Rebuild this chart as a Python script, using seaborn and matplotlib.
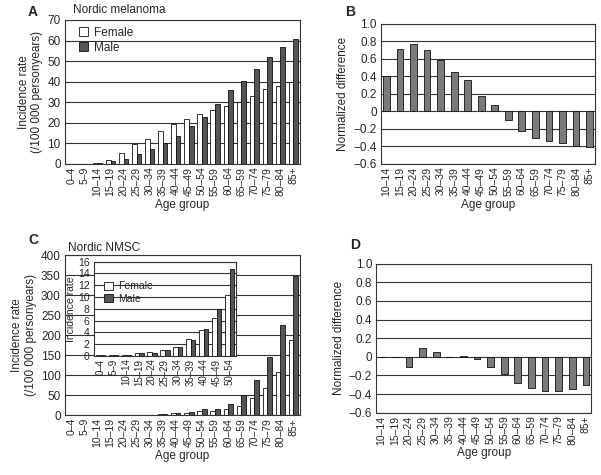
import matplotlib
matplotlib.use("Agg")
import matplotlib.pyplot as plt
import pandas as pd
import seaborn as sns

sns.set_style("white")
plt.rcParams['font.family'] = ['Liberation Sans', 'DejaVu Sans']

# Age groups (the reference labels 65-69 as "65–59")
ages = ['0–4', '5–9', '10–14', '15–19', '20–24', '25–29', '30–34', '35–39', '40–44',
        '45–49', '50–54', '55–59', '60–64', '65–59', '70–74', '75–79', '80–84', '85+']
ages_diff = ages[2:]
ages_inset = ages[:11]

# Nordic melanoma incidence (/100 000 personyears)
mel_female = [0, 0.1, 0.3, 2.0, 5.5, 9.8, 12.3, 16.0, 19.5, 22.0, 24.5, 26.0, 28.3, 30.0, 32.8, 36.2, 38.0, 40.0]
mel_male = [0, 0.1, 0.3, 1.2, 2.5, 5.0, 7.0, 10.2, 13.7, 18.5, 22.8, 29.0, 35.7, 40.5, 46.3, 51.8, 57.0, 60.7]
mel_diff = [0.40, 0.71, 0.77, 0.70, 0.59, 0.45, 0.36, 0.18, 0.07, -0.10, -0.22, -0.30, -0.34, -0.36, -0.40, -0.41]

# Nordic NMSC incidence
nmsc_female = [0.05, 0.08, 0.1, 0.4, 0.6, 1.0, 1.5, 2.8, 4.3, 6.5, 10.3, 11.0, 16.0, 24.0, 42.0, 67.0, 107.0, 188.0]
nmsc_male = [0.05, 0.08, 0.15, 0.5, 0.5, 0.9, 1.5, 2.7, 4.6, 8.0, 14.8, 16.0, 29.0, 50.0, 87.0, 145.0, 226.0, 347.0]
nmsc_diff = [0, 0, -0.11, 0.09, 0.05, 0, 0.01, -0.02, -0.11, -0.18, -0.28, -0.33, -0.37, -0.37, -0.35, -0.30]

FS = 7.5
GRID = '#333333'
pal = {'Female': 'white', 'Male': '#555555'}


def long_df(cats, fem, mal):
    return pd.DataFrame({'Age': cats * 2,
                         'value': list(fem) + list(mal),
                         'Sex': ['Female'] * len(cats) + ['Male'] * len(cats)})


def style_axes(ax, ylabel, yticks, ylim, fmt=None, xtick_len=0):
    ax.set_ylim(*ylim)
    ax.set_yticks(yticks)
    if fmt:
        ax.set_yticklabels([fmt(v) for v in yticks])
    ax.yaxis.grid(True, color=GRID, linewidth=0.8)
    ax.xaxis.grid(False)
    ax.set_axisbelow(True)
    for s in ax.spines.values():
        s.set_color(GRID)
        s.set_linewidth(0.8)
    ax.tick_params(axis='y', length=0, labelsize=FS + 1, pad=3)
    ax.tick_params(axis='x', labelrotation=90, labelsize=FS, length=xtick_len,
                   direction='in', pad=2)
    ax.set_ylabel(ylabel, fontsize=FS + 1, labelpad=3)


def diff_fmt(v):
    if abs(v) < 1e-9:
        return '0'
    return ('%.1f' % v).replace('-', '\u2212')


def grouped(ax, cats, fem, mal):
    sns.barplot(data=long_df(cats, fem, mal), x='Age', y='value', hue='Sex',
                palette=pal, edgecolor='#111111', linewidth=0.6, width=0.7,
                saturation=1, ax=ax)


def legend(ax, loc, bbox, fs):
    ax.legend(loc=loc, bbox_to_anchor=bbox, frameon=False, fontsize=fs,
              handlelength=0.8, handleheight=0.8, handletextpad=0.5,
              labelspacing=0.25, borderaxespad=0.2)


fig = plt.figure(figsize=(6.01, 4.75), dpi=100)

# A
axA = fig.add_axes([0.108, 0.655, 0.391, 0.303])
grouped(axA, ages, mel_female, mel_male)
style_axes(axA, 'Incidence rate\n(/100 000 personyears)', list(range(0, 71, 10)), (0, 70))
axA.set_xlabel('Age group', fontsize=FS + 1, labelpad=2)
legend(axA, 'upper left', (0.03, 1.0), FS + 1)

# B
axB = fig.add_axes([0.634, 0.655, 0.356, 0.295])
sns.barplot(x=ages_diff, y=mel_diff, color='#7a7a7a', edgecolor='#111111',
            linewidth=0.6, width=0.5, saturation=1, ax=axB)
style_axes(axB, 'Normalized difference', [-0.6, -0.4, -0.2, 0, 0.2, 0.4, 0.6, 0.8, 1.0],
           (-0.6, 1.0), diff_fmt, xtick_len=3)
axB.set_xlim(-0.4, 15.4)
axB.set_xlabel('Age group', fontsize=FS + 1, labelpad=2)

# C
axC = fig.add_axes([0.108, 0.126, 0.391, 0.337])
grouped(axC, ages, nmsc_female, nmsc_male)
style_axes(axC, 'Incidence rate\n(/100 000 personyears)', list(range(0, 401, 50)), (0, 400))
axC.set_xlabel('Age group', fontsize=FS + 1, labelpad=2)
axC.get_legend().remove()

# C inset
axI = fig.add_axes([0.156, 0.251, 0.237, 0.198])
grouped(axI, ages_inset, nmsc_female[:11], nmsc_male[:11])
style_axes(axI, 'Incidence rate', list(range(0, 17, 2)), (0, 16))
axI.tick_params(axis='y', labelsize=FS)
axI.tick_params(axis='x', labelsize=FS - 0.5)
axI.set_ylabel('Incidence rate', fontsize=FS, labelpad=1)
axI.set_xlabel('')
axI.set_facecolor('white')
legend(axI, 'upper left', (0.03, 0.86), FS)

# D
axD = fig.add_axes([0.626, 0.131, 0.358, 0.314])
sns.barplot(x=ages_diff, y=nmsc_diff, color='#7a7a7a', edgecolor='#111111',
            linewidth=0.6, width=0.5, saturation=1, ax=axD)
style_axes(axD, 'Normalized difference', [-0.6, -0.4, -0.2, 0, 0.2, 0.4, 0.6, 0.8, 1.0],
           (-0.6, 1.0), diff_fmt, xtick_len=3)
axD.set_xlim(-0.4, 15.4)
axD.set_xlabel('Age group', fontsize=FS + 1, labelpad=2)

# titles and panel letters
fig.text(73 / 601, 1 - 10 / 475, 'Nordic melanoma', fontsize=FS + 1, va='center')
fig.text(68 / 601, 1 - 248 / 475, 'Nordic NMSC', fontsize=FS + 1, va='center')
for lab, x, y in [('A', 28, 12), ('B', 345, 12), ('C', 28, 240), ('D', 350, 245)]:
    fig.text(x / 601, 1 - y / 475, lab, fontsize=10, fontweight='bold', va='center')

fig.savefig('out.png', dpi=100)
